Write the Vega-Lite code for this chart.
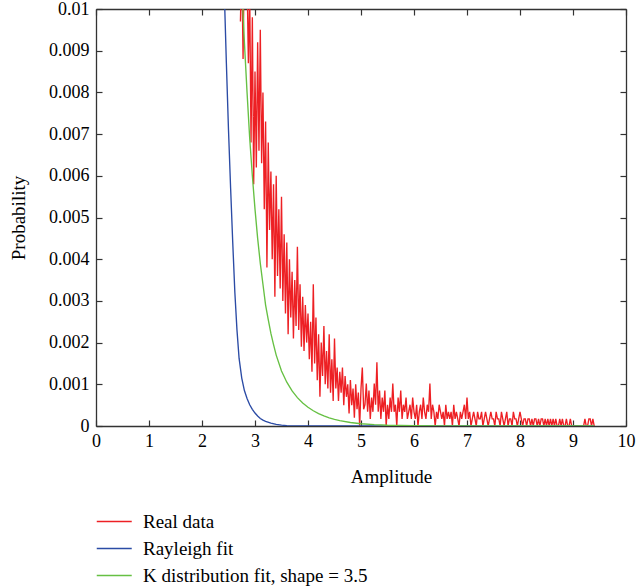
{
"$schema": "https://vega.github.io/schema/vega-lite/v6.json",
"width": 530, "height": 417,
"autosize": {"type": "none"},
"padding": {"left": 96, "top": 9, "right": 10, "bottom": 162},
"config": {"font": "Liberation Serif", "view": {"stroke": null}},
"data": {"values": [
{"s":"Real data","x":2.725,"y":0.0097},{"s":"Real data","x":2.75,"y":0.0112},{"s":"Real data","x":2.775,"y":0.0088},{"s":"Real data","x":2.8,"y":0.0115},{"s":"Real data","x":2.825,"y":0.0100},{"s":"Real data","x":2.85,"y":0.0108},{"s":"Real data","x":2.875,"y":0.0087},{"s":"Real data","x":2.9,"y":0.0104},{"s":"Real data","x":2.925,"y":0.0068},{"s":"Real data","x":2.95,"y":0.0098},{"s":"Real data","x":2.975,"y":0.0058},{"s":"Real data","x":3.0,"y":0.0085},{"s":"Real data","x":3.025,"y":0.0062},{"s":"Real data","x":3.05,"y":0.0092},{"s":"Real data","x":3.075,"y":0.0066},{"s":"Real data","x":3.1,"y":0.0095},{"s":"Real data","x":3.125,"y":0.0063},{"s":"Real data","x":3.15,"y":0.0080},{"s":"Real data","x":3.175,"y":0.0052},{"s":"Real data","x":3.2,"y":0.0073},{"s":"Real data","x":3.225,"y":0.0038},{"s":"Real data","x":3.25,"y":0.0068},{"s":"Real data","x":3.275,"y":0.0047},{"s":"Real data","x":3.3,"y":0.0061},{"s":"Real data","x":3.325,"y":0.0040},{"s":"Real data","x":3.35,"y":0.0058},{"s":"Real data","x":3.375,"y":0.0031},{"s":"Real data","x":3.4,"y":0.0060},{"s":"Real data","x":3.425,"y":0.0036},{"s":"Real data","x":3.45,"y":0.0052},{"s":"Real data","x":3.475,"y":0.0033},{"s":"Real data","x":3.5,"y":0.0055},{"s":"Real data","x":3.525,"y":0.0030},{"s":"Real data","x":3.55,"y":0.0046},{"s":"Real data","x":3.575,"y":0.0027},{"s":"Real data","x":3.6,"y":0.0044},{"s":"Real data","x":3.625,"y":0.0022},{"s":"Real data","x":3.65,"y":0.0040},{"s":"Real data","x":3.675,"y":0.0026},{"s":"Real data","x":3.7,"y":0.0037},{"s":"Real data","x":3.725,"y":0.0021},{"s":"Real data","x":3.75,"y":0.0035},{"s":"Real data","x":3.775,"y":0.0024},{"s":"Real data","x":3.8,"y":0.0043},{"s":"Real data","x":3.825,"y":0.0023},{"s":"Real data","x":3.85,"y":0.0034},{"s":"Real data","x":3.875,"y":0.0019},{"s":"Real data","x":3.9,"y":0.0031},{"s":"Real data","x":3.925,"y":0.0018},{"s":"Real data","x":3.95,"y":0.0029},{"s":"Real data","x":3.975,"y":0.0020},{"s":"Real data","x":4.0,"y":0.0027},{"s":"Real data","x":4.025,"y":0.0016},{"s":"Real data","x":4.05,"y":0.0025},{"s":"Real data","x":4.075,"y":0.0013},{"s":"Real data","x":4.1,"y":0.0034},{"s":"Real data","x":4.125,"y":0.0015},{"s":"Real data","x":4.15,"y":0.0026},{"s":"Real data","x":4.175,"y":0.0011},{"s":"Real data","x":4.2,"y":0.0022},{"s":"Real data","x":4.225,"y":0.0007},{"s":"Real data","x":4.25,"y":0.0020},{"s":"Real data","x":4.275,"y":0.0012},{"s":"Real data","x":4.3,"y":0.0024},{"s":"Real data","x":4.325,"y":0.0010},{"s":"Real data","x":4.35,"y":0.0018},{"s":"Real data","x":4.375,"y":0.0009},{"s":"Real data","x":4.4,"y":0.0022},{"s":"Real data","x":4.425,"y":0.0008},{"s":"Real data","x":4.45,"y":0.0016},{"s":"Real data","x":4.475,"y":0.0006},{"s":"Real data","x":4.5,"y":0.0021},{"s":"Real data","x":4.525,"y":0.0009},{"s":"Real data","x":4.55,"y":0.0014},{"s":"Real data","x":4.575,"y":0.0006},{"s":"Real data","x":4.6,"y":0.0013},{"s":"Real data","x":4.625,"y":0.0008},{"s":"Real data","x":4.65,"y":0.0014},{"s":"Real data","x":4.675,"y":0.0005},{"s":"Real data","x":4.7,"y":0.0012},{"s":"Real data","x":4.725,"y":0.0007},{"s":"Real data","x":4.75,"y":0.0010},{"s":"Real data","x":4.775,"y":0.0003},{"s":"Real data","x":4.8,"y":0.0011},{"s":"Real data","x":4.825,"y":0.0005},{"s":"Real data","x":4.85,"y":0.0009},{"s":"Real data","x":4.875,"y":0.0002},{"s":"Real data","x":4.9,"y":0.0010},{"s":"Real data","x":4.925,"y":0.0004},{"s":"Real data","x":4.95,"y":0.0008},{"s":"Real data","x":4.975,"y":0.0},{"s":"Real data","x":5.0,"y":0.0009},{"s":"Real data","x":5.025,"y":0.0014},{"s":"Real data","x":5.05,"y":0.0004},
{"s":"Real data","x":5.075,"y":0.00051},{"s":"Real data","x":5.1,"y":0.00102},{"s":"Real data","x":5.125,"y":0.00034},{"s":"Real data","x":5.15,"y":0.00085},{"s":"Real data","x":5.175,"y":0.00017},{"s":"Real data","x":5.2,"y":0.00068},{"s":"Real data","x":5.225,"y":0.00034},{"s":"Real data","x":5.25,"y":0.00102},{"s":"Real data","x":5.275,"y":0.00051},{"s":"Real data","x":5.3,"y":0.00153},{"s":"Real data","x":5.325,"y":0.00034},{"s":"Real data","x":5.35,"y":0.00085},{"s":"Real data","x":5.375,"y":0.00017},{"s":"Real data","x":5.4,"y":0.00068},{"s":"Real data","x":5.425,"y":0.00034},{"s":"Real data","x":5.45,"y":0.00085},{"s":"Real data","x":5.475,"y":0.0},{"s":"Real data","x":5.5,"y":0.00051},{"s":"Real data","x":5.525,"y":0.00017},{"s":"Real data","x":5.55,"y":0.00068},{"s":"Real data","x":5.575,"y":0.00034},{"s":"Real data","x":5.6,"y":0.00102},{"s":"Real data","x":5.625,"y":0.00034},{"s":"Real data","x":5.65,"y":0.00051},{"s":"Real data","x":5.675,"y":0.0},{"s":"Real data","x":5.7,"y":0.00068},{"s":"Real data","x":5.725,"y":0.00034},{"s":"Real data","x":5.75,"y":0.00085},{"s":"Real data","x":5.775,"y":0.00017},{"s":"Real data","x":5.8,"y":0.00051},{"s":"Real data","x":5.825,"y":0.00034},{"s":"Real data","x":5.85,"y":0.00068},{"s":"Real data","x":5.875,"y":0.00017},{"s":"Real data","x":5.9,"y":0.00034},{"s":"Real data","x":5.925,"y":0.00051},{"s":"Real data","x":5.95,"y":0.00017},{"s":"Real data","x":5.975,"y":0.00068},{"s":"Real data","x":6.0,"y":0.00034},{"s":"Real data","x":6.025,"y":0.00017},{"s":"Real data","x":6.05,"y":0.00051},{"s":"Real data","x":6.075,"y":0.0},{"s":"Real data","x":6.1,"y":0.00034},{"s":"Real data","x":6.125,"y":0.00051},{"s":"Real data","x":6.15,"y":0.00017},{"s":"Real data","x":6.175,"y":0.00068},{"s":"Real data","x":6.2,"y":0.00034},{"s":"Real data","x":6.225,"y":0.00017},{"s":"Real data","x":6.25,"y":0.00051},{"s":"Real data","x":6.275,"y":0.00034},{"s":"Real data","x":6.3,"y":0.00102},{"s":"Real data","x":6.325,"y":0.00017},{"s":"Real data","x":6.35,"y":0.00051},{"s":"Real data","x":6.375,"y":0.00034},{"s":"Real data","x":6.4,"y":0.0},{"s":"Real data","x":6.425,"y":0.00034},{"s":"Real data","x":6.45,"y":0.00017},{"s":"Real data","x":6.475,"y":0.00051},{"s":"Real data","x":6.5,"y":0.00034},{"s":"Real data","x":6.525,"y":0.00017},{"s":"Real data","x":6.55,"y":0.00034},{"s":"Real data","x":6.575,"y":0.0},{"s":"Real data","x":6.6,"y":0.00051},{"s":"Real data","x":6.625,"y":0.00017},{"s":"Real data","x":6.65,"y":0.00034},{"s":"Real data","x":6.675,"y":0.00017},{"s":"Real data","x":6.7,"y":0.00034},{"s":"Real data","x":6.725,"y":0.0},{"s":"Real data","x":6.75,"y":0.00051},{"s":"Real data","x":6.775,"y":0.00017},{"s":"Real data","x":6.8,"y":0.00034},{"s":"Real data","x":6.825,"y":0.00017},{"s":"Real data","x":6.85,"y":0.0},{"s":"Real data","x":6.875,"y":0.00034},{"s":"Real data","x":6.9,"y":0.00017},{"s":"Real data","x":6.925,"y":0.00034},{"s":"Real data","x":6.95,"y":0.00051},{"s":"Real data","x":6.975,"y":0.00017},{"s":"Real data","x":7.0,"y":0.00068},{"s":"Real data","x":7.025,"y":0.00017},{"s":"Real data","x":7.05,"y":0.00034},{"s":"Real data","x":7.075,"y":0.0},{"s":"Real data","x":7.1,"y":0.00017},{"s":"Real data","x":7.125,"y":0.00034},{"s":"Real data","x":7.15,"y":0.00017},{"s":"Real data","x":7.175,"y":0.0},{"s":"Real data","x":7.2,"y":0.00034},{"s":"Real data","x":7.225,"y":0.00017},{"s":"Real data","x":7.25,"y":0.00017},{"s":"Real data","x":7.275,"y":0.00034},{"s":"Real data","x":7.3,"y":0.0},{"s":"Real data","x":7.325,"y":0.00017},{"s":"Real data","x":7.35,"y":0.00034},{"s":"Real data","x":7.375,"y":0.00017},{"s":"Real data","x":7.4,"y":0.0},{"s":"Real data","x":7.425,"y":0.00017},{"s":"Real data","x":7.45,"y":0.00034},{"s":"Real data","x":7.475,"y":0.00017},{"s":"Real data","x":7.5,"y":0.00017},{"s":"Real data","x":7.525,"y":0.0},{"s":"Real data","x":7.55,"y":0.00034},{"s":"Real data","x":7.575,"y":0.00017},{"s":"Real data","x":7.6,"y":0.00017},{"s":"Real data","x":7.625,"y":0.0},{"s":"Real data","x":7.65,"y":0.00034},{"s":"Real data","x":7.675,"y":0.00017},{"s":"Real data","x":7.7,"y":0.0},{"s":"Real data","x":7.725,"y":0.00017},{"s":"Real data","x":7.75,"y":0.00034},{"s":"Real data","x":7.775,"y":0.0},{"s":"Real data","x":7.8,"y":0.00017},{"s":"Real data","x":7.825,"y":0.00017},{"s":"Real data","x":7.85,"y":0.0},{"s":"Real data","x":7.875,"y":0.00034},{"s":"Real data","x":7.9,"y":0.00017},{"s":"Real data","x":7.925,"y":0.00017},{"s":"Real data","x":7.95,"y":0.0},{"s":"Real data","x":7.975,"y":0.00017},{"s":"Real data","x":8.0,"y":0.00034},{"s":"Real data","x":8.025,"y":0.00017},{"s":"Real data","x":8.05,"y":0.0},{"s":"Real data","x":8.075,"y":0.00017},{"s":"Real data","x":8.1,"y":0.00017},{"s":"Real data","x":8.125,"y":0.0},{"s":"Real data","x":8.15,"y":0.00017},{"s":"Real data","x":8.175,"y":0.00017},{"s":"Real data","x":8.2,"y":0.0},{"s":"Real data","x":8.225,"y":0.00017},{"s":"Real data","x":8.25,"y":0.0},{"s":"Real data","x":8.275,"y":0.00017},{"s":"Real data","x":8.3,"y":0.00017},{"s":"Real data","x":8.325,"y":0.0},{"s":"Real data","x":8.35,"y":0.00017},{"s":"Real data","x":8.375,"y":0.0},{"s":"Real data","x":8.4,"y":0.00017},{"s":"Real data","x":8.425,"y":0.00017},{"s":"Real data","x":8.45,"y":0.0},{"s":"Real data","x":8.475,"y":0.00017},{"s":"Real data","x":8.5,"y":0.0},{"s":"Real data","x":8.525,"y":0.00017},{"s":"Real data","x":8.55,"y":0.0},{"s":"Real data","x":8.575,"y":0.00017},{"s":"Real data","x":8.6,"y":0.0},{"s":"Real data","x":8.625,"y":0.00017},{"s":"Real data","x":8.65,"y":0.0},{"s":"Real data","x":8.675,"y":0.00017},{"s":"Real data","x":8.7,"y":0.0},{"s":"Real data","x":8.725,"y":0.0},{"s":"Real data","x":8.75,"y":0.00017},{"s":"Real data","x":8.775,"y":0.0},{"s":"Real data","x":8.8,"y":0.00017},{"s":"Real data","x":8.825,"y":0.0},{"s":"Real data","x":8.85,"y":0.0},{"s":"Real data","x":8.875,"y":0.00017},{"s":"Real data","x":8.9,"y":0.0},{"s":"Real data","x":8.925,"y":0.0},{"s":"Real data","x":8.95,"y":0.00017},{"s":"Real data","x":8.975,"y":0.0},{"s":"Real data","x":9.0,"y":0.0},{"s":"Real data","x":9.1,"y":0.0},{"s":"Real data","x":9.2,"y":0.0},{"s":"Real data","x":9.225,"y":0.00017},{"s":"Real data","x":9.25,"y":0.0},{"s":"Real data","x":9.275,"y":0.0},{"s":"Real data","x":9.3,"y":0.00017},{"s":"Real data","x":9.325,"y":0.00017},{"s":"Real data","x":9.35,"y":0.0},{"s":"Real data","x":9.375,"y":0.00017},{"s":"Real data","x":9.4,"y":0.0},
{"s":"Rayleigh fit","x":2.35,"y":0.0145},{"s":"Rayleigh fit","x":2.4,"y":0.0115},{"s":"Rayleigh fit","x":2.43,"y":0.0100},{"s":"Rayleigh fit","x":2.46,"y":0.0087},{"s":"Rayleigh fit","x":2.5,"y":0.0071},{"s":"Rayleigh fit","x":2.54,"y":0.0057},{"s":"Rayleigh fit","x":2.58,"y":0.0044},{"s":"Rayleigh fit","x":2.62,"y":0.0032},{"s":"Rayleigh fit","x":2.66,"y":0.0023},{"s":"Rayleigh fit","x":2.7,"y":0.00162},{"s":"Rayleigh fit","x":2.75,"y":0.00115},{"s":"Rayleigh fit","x":2.8,"y":0.00085},{"s":"Rayleigh fit","x":2.85,"y":0.00066},{"s":"Rayleigh fit","x":2.9,"y":0.00051},{"s":"Rayleigh fit","x":2.95,"y":0.0004},{"s":"Rayleigh fit","x":3.0,"y":0.00031},{"s":"Rayleigh fit","x":3.05,"y":0.00024},{"s":"Rayleigh fit","x":3.1,"y":0.00018},{"s":"Rayleigh fit","x":3.15,"y":0.00014},{"s":"Rayleigh fit","x":3.2,"y":0.00011},{"s":"Rayleigh fit","x":3.3,"y":0.00007},{"s":"Rayleigh fit","x":3.4,"y":0.00004},{"s":"Rayleigh fit","x":3.5,"y":0.00002},{"s":"Rayleigh fit","x":3.6,"y":0.00001},{"s":"Rayleigh fit","x":3.8,"y":0.000003},{"s":"Rayleigh fit","x":4.0,"y":0.0},{"s":"Rayleigh fit","x":9.4,"y":0.0},
{"s":"K distribution fit, shape = 3.5","x":2.65,"y":0.0140},{"s":"K distribution fit, shape = 3.5","x":2.7,"y":0.0122},{"s":"K distribution fit, shape = 3.5","x":2.75,"y":0.0106},{"s":"K distribution fit, shape = 3.5","x":2.8,"y":0.0092},{"s":"K distribution fit, shape = 3.5","x":2.85,"y":0.0080},{"s":"K distribution fit, shape = 3.5","x":2.9,"y":0.0069},{"s":"K distribution fit, shape = 3.5","x":2.95,"y":0.0060},{"s":"K distribution fit, shape = 3.5","x":3.0,"y":0.0052},{"s":"K distribution fit, shape = 3.5","x":3.05,"y":0.0045},{"s":"K distribution fit, shape = 3.5","x":3.1,"y":0.0039},{"s":"K distribution fit, shape = 3.5","x":3.15,"y":0.0034},{"s":"K distribution fit, shape = 3.5","x":3.2,"y":0.0029},{"s":"K distribution fit, shape = 3.5","x":3.25,"y":0.00255},{"s":"K distribution fit, shape = 3.5","x":3.3,"y":0.00222},{"s":"K distribution fit, shape = 3.5","x":3.35,"y":0.00195},{"s":"K distribution fit, shape = 3.5","x":3.4,"y":0.0017},{"s":"K distribution fit, shape = 3.5","x":3.5,"y":0.00132},{"s":"K distribution fit, shape = 3.5","x":3.6,"y":0.00105},{"s":"K distribution fit, shape = 3.5","x":3.7,"y":0.00084},{"s":"K distribution fit, shape = 3.5","x":3.8,"y":0.00068},{"s":"K distribution fit, shape = 3.5","x":3.9,"y":0.00055},{"s":"K distribution fit, shape = 3.5","x":4.0,"y":0.00045},{"s":"K distribution fit, shape = 3.5","x":4.1,"y":0.000365},{"s":"K distribution fit, shape = 3.5","x":4.2,"y":0.000295},{"s":"K distribution fit, shape = 3.5","x":4.3,"y":0.00024},{"s":"K distribution fit, shape = 3.5","x":4.4,"y":0.000194},{"s":"K distribution fit, shape = 3.5","x":4.5,"y":0.000157},{"s":"K distribution fit, shape = 3.5","x":4.6,"y":0.000127},{"s":"K distribution fit, shape = 3.5","x":4.8,"y":0.0000835},{"s":"K distribution fit, shape = 3.5","x":5.0,"y":0.000055},{"s":"K distribution fit, shape = 3.5","x":5.25,"y":0.000033},{"s":"K distribution fit, shape = 3.5","x":5.5,"y":0.000019},{"s":"K distribution fit, shape = 3.5","x":6.0,"y":0.0000068},{"s":"K distribution fit, shape = 3.5","x":6.5,"y":0.0000025},{"s":"K distribution fit, shape = 3.5","x":7.0,"y":0.000001},{"s":"K distribution fit, shape = 3.5","x":8.0,"y":0.0},{"s":"K distribution fit, shape = 3.5","x":9.4,"y":0.0}
]},
"layer": [
{"mark": {"type": "line", "clip": true, "strokeWidth": 1.35},
 "encoding": {
  "x": {"field": "x", "type": "quantitative", "scale": {"domain": [0, 10], "nice": false, "zero": false},
   "axis": {"orient": "bottom", "values": [0,1,2,3,4,5,6,7,8,9,10], "title": "Amplitude", "grid": false, "tickSize": -6, "labelPadding": 12, "labelFlush": false, "labelFontSize": 18, "labelColor": "#000", "titleFontSize": 19, "titleFontWeight": "normal", "titleColor": "#000", "titleX": 295, "titleY": 56, "titleBaseline": "alphabetic", "domainColor": "#333", "tickColor": "#333", "domainWidth": 1.3, "tickWidth": 1.2}},
  "y": {"field": "y", "type": "quantitative", "scale": {"domain": [0, 0.01], "nice": false},
   "axis": {"orient": "left", "values": [0,0.001,0.002,0.003,0.004,0.005,0.006,0.007,0.008,0.009,0.01], "format": ".3~f", "title": "Probability", "grid": false, "tickSize": -6, "labelPadding": 13, "labelFlush": false, "labelFontSize": 18, "labelColor": "#000", "titleFontSize": 19, "titleFontWeight": "normal", "titleColor": "#000", "titleX": -78, "titleY": 208.5, "titleAngle": -90, "titleBaseline": "middle", "titleAlign": "center", "domainColor": "#333", "tickColor": "#333", "domainWidth": 1.3, "tickWidth": 1.2}},
  "color": {"field": "s", "type": "nominal",
   "scale": {"domain": ["Real data", "Rayleigh fit", "K distribution fit, shape = 3.5"], "range": ["#ed2024", "#2b4ba5", "#66c043"]},
   "legend": {"orient": "none", "legendX": 0, "legendY": 503, "title": null, "symbolType": "M-1,0H3", "symbolSize": 306, "symbolStrokeWidth": 1.5, "labelFontSize": 19, "labelColor": "#000", "labelOffset": 28, "labelLimit": 500, "rowPadding": 7, "padding": 0}}
 }},
{"mark": {"type": "line", "opacity": 0},
 "encoding": {
  "x": {"field": "x", "type": "quantitative", "scale": {"domain": [0, 10], "nice": false, "zero": false},
   "axis": {"orient": "top", "values": [0,1,2,3,4,5,6,7,8,9,10], "labels": false, "title": null, "grid": false, "tickSize": -6, "domainColor": "#333", "tickColor": "#333", "domainWidth": 1.3, "tickWidth": 1.2}},
  "y": {"field": "y", "type": "quantitative", "scale": {"domain": [0, 0.01], "nice": false},
   "axis": {"orient": "right", "values": [0,0.001,0.002,0.003,0.004,0.005,0.006,0.007,0.008,0.009,0.01], "labels": false, "title": null, "grid": false, "tickSize": -6, "domainColor": "#333", "tickColor": "#333", "domainWidth": 1.3, "tickWidth": 1.2}}
 }}
],
"resolve": {"axis": {"x": "independent", "y": "independent"}}
}
